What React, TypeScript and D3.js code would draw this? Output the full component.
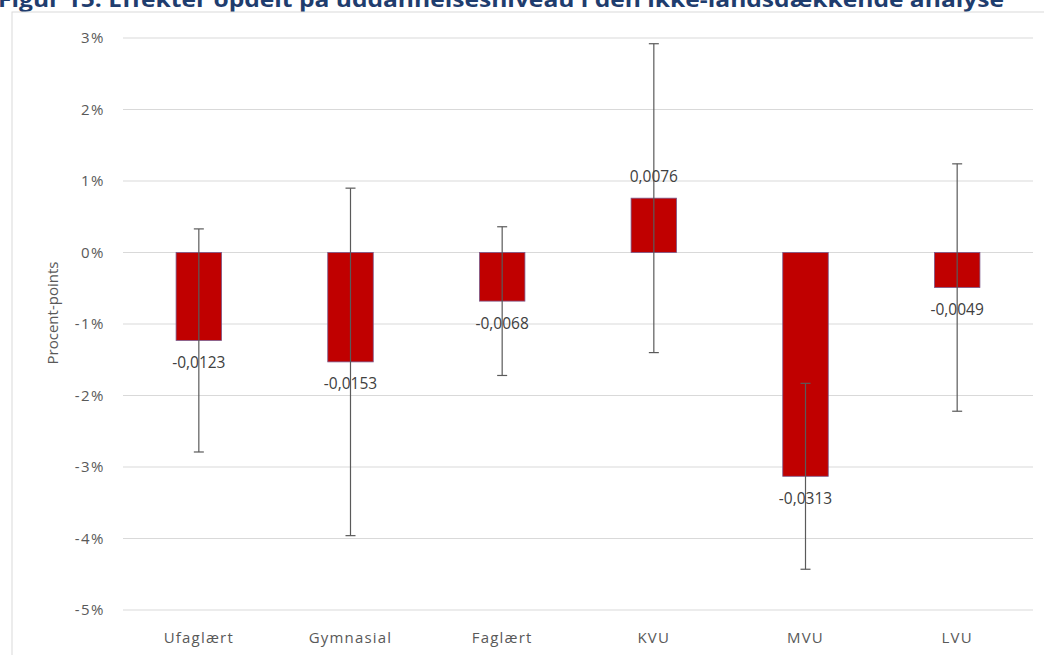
import React from "react"
import * as d3 from "d3"

const categories = ["Ufaglært", "Gymnasial", "Faglært", "KVU", "MVU", "LVU"]
const effects = [-0.0123, -0.0153, -0.0068, 0.0076, -0.0313, -0.0049]
const errorMargins = [0.0156, 0.0243, 0.0104, 0.0216, 0.013, 0.0173]
const labels = ["-0,0123", "-0,0153", "-0,0068", "0,0076", "-0,0313", "-0,0049"]
const yTicks = [0.03, 0.02, 0.01, 0, -0.01, -0.02, -0.03, -0.04, -0.05]

const title = "Figur 15: Effekter opdelt på uddannelsesniveau i den ikke-landsdækkende analyse"

const width = 1044
const height = 655
const plot = { left: 123, right: 1033, top: 38, bottom: 610 }
const font = "'Open Sans', 'Noto Sans', sans-serif"
const textColor = "#595959"

export default function App() {
  const x = d3.scaleBand<string>().domain(categories).range([plot.left, plot.right]).padding(0)
  const y = d3.scaleLinear().domain([-0.05, 0.03]).range([plot.bottom, plot.top])
  const barW = x.bandwidth() * 0.3
  const capW = 10
  // excel style: plain hyphen for minus
  const pct = (v: number) => d3.format(".0%")(v).replace("−", "-")

  return (
    <svg width={width} height={height} style={{ position: "absolute", left: 0, top: 0, background: "#fff" }}>
      <text
        x={-2}
        y={7}
        fontFamily={font}
        fontWeight="bold"
        fontSize={22}
        fill="#1f3d6e"
        textLength={1006}
        lengthAdjust="spacingAndGlyphs"
      >
        {title}
      </text>
      <rect x={12} y={12} width={width} height={height} fill="none" stroke="#d9d9d9" />

      {/* gridlines + y labels */}
      {yTicks.map((t) => (
        <g key={t}>
          <line x1={plot.left} x2={plot.right} y1={y(t)} y2={y(t)} stroke="#d9d9d9" strokeWidth={1} />
          <text
            x={105}
            y={y(t)}
            dy="0.35em"
            textAnchor="end"
            fontFamily={font}
            fontSize={15}
            letterSpacing={1.5}
            fill={textColor}
          >
            {pct(t)}
          </text>
        </g>
      ))}

      <text
        transform={`translate(58,313) rotate(-90)`}
        textAnchor="middle"
        fontFamily={font}
        fontSize={15}
        fill={textColor}
      >
        Procent-points
      </text>

      {/* bars */}
      {categories.map((c, i) => {
        const cx = (x(c) ?? 0) + x.bandwidth() / 2
        const v = effects[i]
        return (
          <rect
            key={c}
            x={cx - barW / 2}
            y={y(Math.max(0, v))}
            width={barW}
            height={Math.abs(y(v) - y(0))}
            fill="#c00000"
            stroke="#7a5a8c"
            strokeWidth={0.8}
          />
        )
      })}

      {/* error bars */}
      {categories.map((c, i) => {
        const cx = (x(c) ?? 0) + x.bandwidth() / 2
        const hi = y(effects[i] + errorMargins[i])
        const lo = y(effects[i] - errorMargins[i])
        return (
          <g key={c} stroke="#5a5a5a" strokeWidth={1.2}>
            <line x1={cx} x2={cx} y1={hi} y2={lo} />
            <line x1={cx - capW / 2} x2={cx + capW / 2} y1={hi} y2={hi} />
            <line x1={cx - capW / 2} x2={cx + capW / 2} y1={lo} y2={lo} />
          </g>
        )
      })}

      {/* data labels */}
      {categories.map((c, i) => {
        const cx = (x(c) ?? 0) + x.bandwidth() / 2
        const v = effects[i]
        const ly = v < 0 ? y(v) + 22 : y(v) - 22
        return (
          <text
            key={c}
            x={cx}
            y={ly}
            dy="0.35em"
            textAnchor="middle"
            fontFamily={font}
            fontSize={15.5}
            fill="#404040"
          >
            {labels[i]}
          </text>
        )
      })}

      {/* category labels */}
      {categories.map((c) => (
        <text
          key={c}
          x={(x(c) ?? 0) + x.bandwidth() / 2}
          y={638}
          dy="0.35em"
          textAnchor="middle"
          fontFamily={font}
          fontSize={15}
          letterSpacing={1.2}
          fill={textColor}
        >
          {c}
        </text>
      ))}
    </svg>
  )
}
